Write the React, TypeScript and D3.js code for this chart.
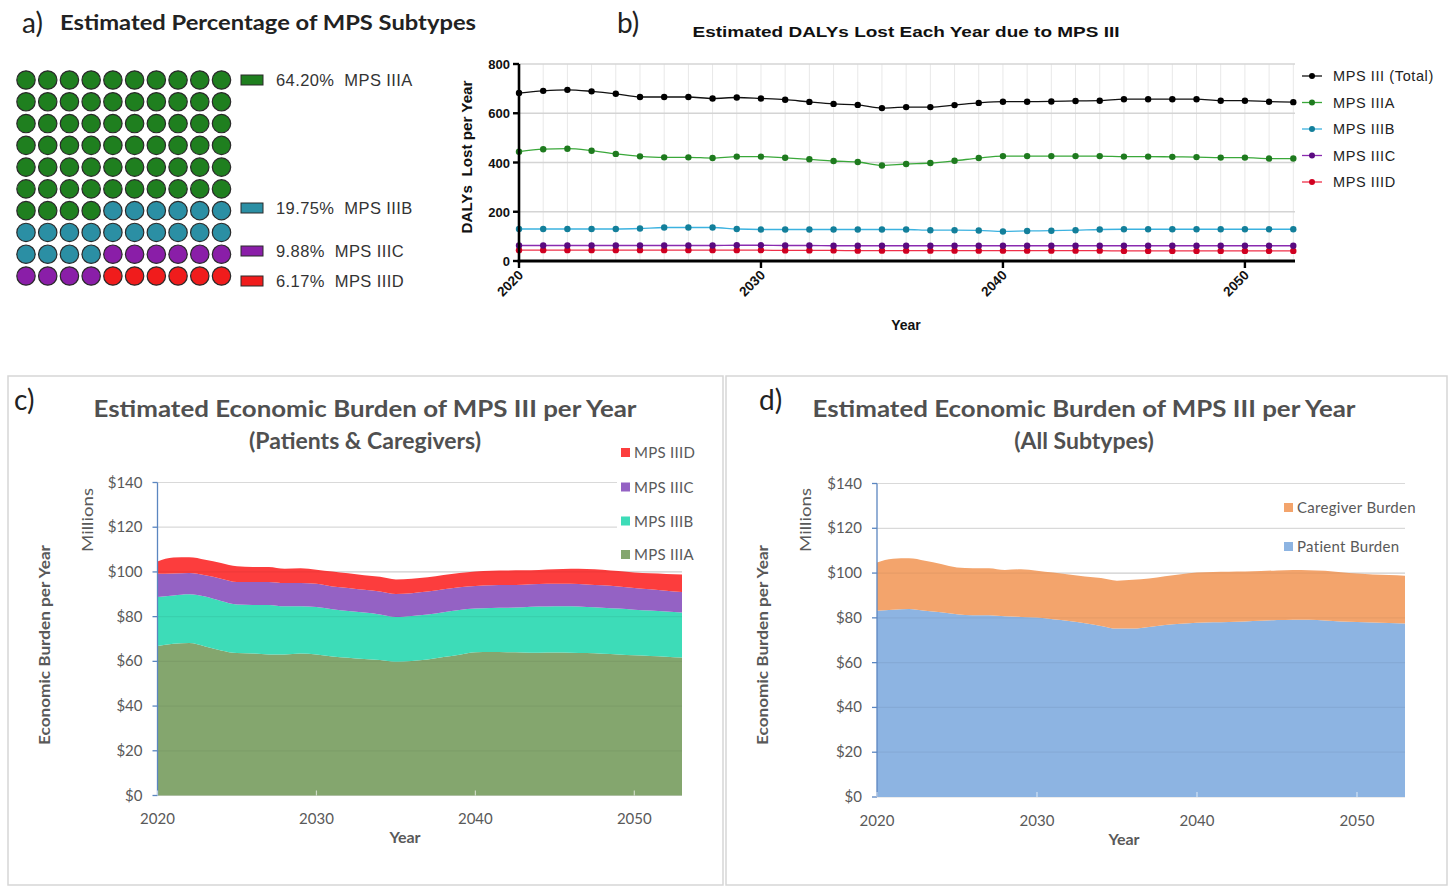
import React from "react";
import * as d3 from "d3";

// ---------- Panel a: waffle ----------
const waffleLabels = ["MPS IIIA", "MPS IIIB", "MPS IIIC", "MPS IIID"];
const wafflePercents = ["64.20%", "19.75%", "9.88%", "6.17%"];
const waffleCounts = [64, 20, 10, 6];
const waffleColors = ["#1f7f1f", "#2b8fa4", "#8a1ea8", "#f01c1c"];
const waffleLegendY = [80, 208, 251, 281];

// ---------- Panel b: DALYs ----------
const dalyYears = [2020, 2021, 2022, 2023, 2024, 2025, 2026, 2027, 2028, 2029, 2030, 2031, 2032, 2033, 2034, 2035, 2036, 2037, 2038, 2039, 2040, 2041, 2042, 2043, 2044, 2045, 2046, 2047, 2048, 2049, 2050, 2051, 2052];
const dalyTotal = [682, 691, 695, 689, 679, 666, 666, 666, 660, 664, 660, 655, 646, 638, 634, 621, 625, 625, 633, 642, 647, 647, 648, 650, 651, 657, 657, 657, 657, 651, 651, 647, 645];
const dalyA = [444, 454, 456, 448, 435, 425, 421, 421, 418, 424, 424, 419, 413, 406, 402, 388, 394, 398, 407, 418, 426, 426, 426, 426, 426, 424, 424, 423, 422, 420, 420, 416, 416];
const dalyB = [130, 130, 130, 130, 130, 132, 136, 136, 136, 130, 128, 128, 128, 128, 128, 128, 128, 125, 125, 124, 120, 122, 123, 125, 128, 129, 129, 129, 129, 129, 129, 129, 129];
const dalyC = [63, 63, 63, 63, 63, 63, 63, 63, 63, 64, 64, 63, 63, 62, 62, 62, 62, 62, 62, 62, 62, 62, 62, 62, 62, 62, 62, 62, 62, 62, 62, 62, 62];
const dalyD = [44, 44, 44, 44, 44, 44, 44, 44, 44, 44, 44, 43, 43, 43, 42, 42, 42, 42, 42, 42, 42, 42, 42, 42, 42, 41, 41, 41, 41, 41, 41, 41, 41];
const dalyNames = ["MPS III (Total)", "MPS IIIA", "MPS IIIB", "MPS IIIC", "MPS IIID"];
const dalyLineColors = ["#111111", "#3aa83a", "#3bb2e0", "#8a2bb0", "#f0304a"];
const dalyMarkerColors = ["#000000", "#1e7a1e", "#137f9a", "#5a0a80", "#d00020"];
const dalyYTicks = [0, 200, 400, 600, 800];
const dalyXTicks = [2020, 2030, 2040, 2050];

// ---------- Panels c & d: economic burden ----------
const econYears = [2020, 2021, 2022, 2023, 2024, 2025, 2026, 2027, 2028, 2029, 2030, 2031, 2032, 2033, 2034, 2035, 2036, 2037, 2038, 2039, 2040, 2041, 2042, 2043, 2044, 2045, 2046, 2047, 2048, 2049, 2050, 2051, 2052, 2053];
const econA = [66.9, 67.9, 68.2, 66.7, 64.9, 63.7, 63.5, 63.1, 63.1, 63.5, 63.1, 62.2, 61.6, 61.0, 60.6, 59.8, 60.2, 60.8, 61.9, 63.0, 64.1, 64.2, 64.1, 64.0, 63.9, 64.0, 63.9, 63.7, 63.4, 63.1, 62.7, 62.4, 62.1, 61.7];
const econB = [21.9, 21.6, 21.8, 22.3, 22.1, 21.7, 21.7, 22.1, 21.5, 21.2, 21.2, 21.1, 20.9, 20.8, 20.4, 20.0, 20.1, 20.2, 20.1, 20.0, 19.5, 19.7, 19.9, 20.2, 20.6, 20.7, 20.7, 20.6, 20.6, 20.5, 20.4, 20.3, 20.2, 20.1];
const econC = [10.4, 9.8, 9.5, 9.5, 10.0, 10.1, 10.3, 10.3, 10.4, 10.4, 10.4, 10.2, 10.3, 10.2, 10.2, 10.3, 10.2, 10.2, 10.2, 10.1, 10.1, 10.1, 10.1, 10.1, 10.1, 10.0, 10.1, 10.1, 10.0, 9.9, 9.7, 9.5, 9.3, 9.2];
const econD = [5.5, 7.1, 7.1, 7.0, 7.0, 7.0, 6.7, 6.7, 6.4, 6.6, 6.3, 6.7, 6.6, 6.5, 6.6, 6.5, 6.5, 6.4, 6.4, 6.4, 6.5, 6.5, 6.5, 6.4, 6.3, 6.5, 6.7, 6.9, 7.0, 6.9, 7.0, 7.2, 7.5, 7.8];
const econSubNames = ["MPS IIIA", "MPS IIIB", "MPS IIIC", "MPS IIID"];
const econSubColors = ["#84a66e", "#3ddcb8", "#9462c4", "#fc3d3d"];
const patientBurden = [83.2, 83.6, 84.0, 83.2, 82.5, 81.6, 81.2, 81.2, 80.7, 80.4, 80.2, 79.4, 78.6, 77.6, 76.4, 75.2, 75.2, 75.9, 76.8, 77.4, 77.8, 78.0, 78.2, 78.4, 78.7, 79.0, 79.2, 79.1, 78.8, 78.4, 78.1, 77.9, 77.7, 77.5];
const caregiverBurden = [21.5, 22.8, 22.6, 22.3, 21.5, 20.9, 21.0, 21.0, 20.7, 21.3, 20.8, 20.8, 20.8, 20.9, 21.4, 21.4, 21.8, 21.7, 21.8, 22.1, 22.4, 22.5, 22.4, 22.3, 22.2, 22.2, 22.2, 22.2, 22.2, 22.0, 21.7, 21.5, 21.4, 21.3];
const burdenNames = ["Patient Burden", "Caregiver Burden"];
const burdenColors = ["#8db4e2", "#f3a46c"];
const econYTicks = [0, 20, 40, 60, 80, 100, 120, 140];
const econXTicks = [2020, 2030, 2040, 2050];

const ARIAL = "'Liberation Sans', Arial, sans-serif";
const CAL = "Lato, 'Open Sans', sans-serif";
const GREY = "#595959";

function Waffle() {
  const cells: { i: number; color: string }[] = [];
  let idx = 0;
  waffleCounts.forEach((n, k) => {
    for (let j = 0; j < n; j++) cells.push({ i: idx++, color: waffleColors[k] });
  });
  const x = d3.scaleLinear().domain([0, 9]).range([26, 221.5]);
  const y = d3.scaleLinear().domain([0, 9]).range([80, 276]);
  return (
    <g>
      <text x={22} y={33} fontFamily={CAL} fontSize={28} fill="#222">a)</text>
      <text x={60} y={30} fontFamily={CAL} fontWeight={700} fontSize={20} fill="#222" textLength={416} lengthAdjust="spacingAndGlyphs">Estimated Percentage of MPS Subtypes</text>
      {cells.map((c) => (
        <circle key={c.i} cx={x(c.i % 10)} cy={y(Math.floor(c.i / 10))} r={9.2} fill={c.color} stroke="#2a2a2a" strokeWidth={1.2} />
      ))}
      {waffleLabels.map((lab, k) => {
        const yy = waffleLegendY[k];
        return (
          <g key={lab}>
            <rect x={241} y={yy - 5} width={22} height={10} fill={waffleColors[k]} stroke="#2a2a2a" strokeWidth={1} />
            <text x={276} y={yy + 6} fontFamily={ARIAL} fontSize={16.5} fill="#333" letterSpacing={0.4} style={{ whiteSpace: "pre" }}>{`${wafflePercents[k]}  ${lab}`}</text>
          </g>
        );
      })}
    </g>
  );
}

function DalyChart() {
  const x = d3.scaleLinear().domain([2020, 2052.07]).range([519, 1295]);
  const y = d3.scaleLinear().domain([0, 800]).range([261, 64]);
  const series = [dalyTotal, dalyA, dalyB, dalyC, dalyD];
  const line = d3
    .line<number>()
    .x((_, i) => x(dalyYears[i]))
    .y((v) => y(v))
    .curve(d3.curveMonotoneX);
  const order = [4, 3, 2, 1, 0];
  return (
    <g>
      <text x={617} y={33} fontFamily={CAL} fontSize={28} fill="#222">b)</text>
      <text x={906} y={37} textAnchor="middle" fontFamily={ARIAL} fontWeight={700} fontSize={15} fill="#111" textLength={427} lengthAdjust="spacingAndGlyphs">Estimated DALYs Lost Each Year due to MPS III</text>
      {dalyYears.map((yr) => (
        <line key={"vg" + yr} x1={x(yr)} x2={x(yr)} y1={y(800)} y2={y(0)} stroke="#e8e8e8" strokeWidth={1} />
      ))}
      {dalyYTicks.filter((t) => t > 0).map((t) => (
        <line key={"hg" + t} x1={x(2020)} x2={1295} y1={y(t)} y2={y(t)} stroke="#d4d4d4" strokeWidth={1.6} />
      ))}
      {order.map((k) => (
        <g key={"s" + k}>
          <path d={line(series[k]) || ""} fill="none" stroke={dalyLineColors[k]} strokeWidth={1.3} />
          {series[k].map((v, i) => (
            <circle key={i} cx={x(dalyYears[i])} cy={y(v)} r={3.2} fill={dalyMarkerColors[k]} />
          ))}
        </g>
      ))}
      <line x1={x(2020)} x2={x(2020)} y1={y(800)} y2={y(0) + 1.5} stroke="#000" strokeWidth={2.6} />
      <line x1={x(2020) - 1.3} x2={1295} y1={y(0)} y2={y(0)} stroke="#000" strokeWidth={3} />
      {dalyYTicks.map((t) => (
        <g key={"yt" + t}>
          <line x1={x(2020) - 6} x2={x(2020)} y1={y(t)} y2={y(t)} stroke="#000" strokeWidth={2.4} />
          <text x={x(2020) - 9} y={y(t) + 5} textAnchor="end" fontFamily={ARIAL} fontWeight={700} fontSize={13} fill="#111">{t}</text>
        </g>
      ))}
      {dalyXTicks.map((t) => (
        <g key={"xt" + t}>
          <line x1={x(t)} x2={x(t)} y1={y(0)} y2={y(0) + 7} stroke="#000" strokeWidth={2.4} />
          <text transform={`translate(${x(t) + 5},${y(0) + 15}) rotate(-45)`} textAnchor="end" fontFamily={ARIAL} fontWeight={700} fontSize={13.5} fill="#111">{t}</text>
        </g>
      ))}
      <text transform={`translate(472,157) rotate(-90)`} textAnchor="middle" fontFamily={ARIAL} fontWeight={700} fontSize={14} fill="#111" textLength={153} lengthAdjust="spacingAndGlyphs" style={{ whiteSpace: "pre" }}>{"DALYs  Lost per Year"}</text>
      <text x={906} y={330} textAnchor="middle" fontFamily={ARIAL} fontWeight={700} fontSize={14} fill="#111">Year</text>
      {dalyNames.map((n, k) => {
        const yy = 76 + k * 26.5;
        return (
          <g key={"lg" + k}>
            <line x1={1302} x2={1322} y1={yy} y2={yy} stroke={dalyLineColors[k]} strokeWidth={1.3} />
            <circle cx={1312} cy={yy} r={3} fill={dalyMarkerColors[k]} />
            <text x={1333} y={yy + 5} fontFamily={ARIAL} fontSize={14.5} letterSpacing={0.6} fill="#222">{n}</text>
          </g>
        );
      })}
    </g>
  );
}

type EconProps = {
  letter: string;
  letterX: number;
  titleX: number;
  title2: string;
  x0: number;
  x1: number;
  y0: number;
  y1: number;
  layers: number[][];
  colors: string[];
  names: string[];
  legendOrder: number[];
  legendX: number;
  legendY: number[];
  legendBox: [number, number, number, number] | null;
  yTitleX: number;
  millionsX: number;
  yearX: number;
  yearY: number;
  tickY: number;
};

function EconChart(p: EconProps) {
  const x = d3.scaleLinear().domain([2020, 2053]).range([p.x0, p.x1]);
  const y = d3.scaleLinear().domain([0, 140]).range([p.y0, p.y1]);
  const keys = p.layers.map((_, k) => "k" + k);
  const rows = econYears.map((yr, i) => {
    const r: any = { year: yr };
    p.layers.forEach((arr, k) => (r["k" + k] = arr[i]));
    return r;
  });
  const stacked = d3.stack<any>().keys(keys)(rows);
  const area = d3
    .area<any>()
    .x((d) => x(d.data.year))
    .y0((d) => y(d[0]))
    .y1((d) => y(d[1]))
    .curve(d3.curveMonotoneX);
  return (
    <g>
      <text x={p.letterX} y={410} fontFamily={CAL} fontSize={28} fill="#222">{p.letter}</text>
      <text x={p.titleX} y={417} textAnchor="middle" fontFamily={CAL} fontWeight={700} fontSize={23} fill="#505050" textLength={543} lengthAdjust="spacingAndGlyphs">Estimated Economic Burden of MPS III per Year</text>
      <text x={p.titleX} y={449} textAnchor="middle" fontFamily={CAL} fontWeight={700} fontSize={23} fill="#505050">{p.title2}</text>
      {econYTicks.map((t) => (
        <line key={"g" + t} x1={p.x0} x2={p.x1} y1={y(t)} y2={y(t)} stroke="#d9d9d9" strokeWidth={1.2} />
      ))}
      {stacked.map((s, k) => (
        <path key={"a" + k} d={area(s as any) || ""} fill={p.colors[k]} />
      ))}
      {econYTicks.filter((t) => t > 0 && t < 120).map((t) => (
        <line key={"gi" + t} x1={p.x0} x2={p.x1} y1={y(t)} y2={y(t)} stroke="rgba(0,0,0,0.05)" strokeWidth={1.2} />
      ))}
      {p.legendBox && <rect x={p.legendBox[0]} y={p.legendBox[1]} width={p.legendBox[2]} height={p.legendBox[3]} fill="#fff" />}
      <line x1={p.x0} x2={p.x0} y1={y(140)} y2={y(0)} stroke="#5b86c0" strokeWidth={1.3} />
      {econYTicks.map((t) => (
        <g key={"yt" + t}>
          <line x1={p.x0 - 5} x2={p.x0} y1={y(t)} y2={y(t)} stroke="#5b86c0" strokeWidth={1.3} />
          <text x={p.x0 - 15} y={y(t) + 5} textAnchor="end" fontFamily={CAL} fontSize={15} fill={GREY}>{`$${t}`}</text>
        </g>
      ))}
      {econXTicks.map((t) => (
        <g key={"xt" + t}>
          <line x1={x(t)} x2={x(t)} y1={y(0) - 5} y2={y(0)} stroke="rgba(255,255,255,0.6)" strokeWidth={1.2} />
          <text x={x(t)} y={p.tickY} textAnchor="middle" fontFamily={CAL} fontSize={15} fill={GREY}>{t}</text>
        </g>
      ))}
      <text x={p.yearX} y={p.yearY} textAnchor="middle" fontFamily={CAL} fontWeight={700} fontSize={16} fill={GREY}>Year</text>
      <text transform={`translate(${p.yTitleX},${645}) rotate(-90)`} textAnchor="middle" fontFamily={CAL} fontWeight={700} fontSize={16} fill={GREY} textLength={200} lengthAdjust="spacingAndGlyphs">Economic Burden per Year</text>
      <text transform={`translate(${p.millionsX},${520}) rotate(-90)`} textAnchor="middle" fontFamily={CAL} fontSize={16} fill={GREY} textLength={64} lengthAdjust="spacingAndGlyphs">Millions</text>
      {p.legendOrder.map((k, j) => (
        <g key={"lg" + k}>
          <rect x={p.legendX} y={p.legendY[j] - 5} width={9} height={9} fill={p.colors[k]} />
          <text x={p.legendX + 13} y={p.legendY[j] + 5} fontFamily={CAL} fontSize={15} letterSpacing={0.3} fill={GREY}>{p.names[k]}</text>
        </g>
      ))}
    </g>
  );
}

export default function App() {
  return (
    <svg width={1453} height={888} style={{ position: "absolute", left: 0, top: 0, background: "#fff" }}>
      <rect x={0} y={0} width={1453} height={888} fill="#fff" />
      <Waffle />
      <DalyChart />
      <rect x={8} y={376} width={715} height={509} fill="none" stroke="#d6d6d6" strokeWidth={1.5} />
      <rect x={726} y={376} width={721} height={509} fill="none" stroke="#d6d6d6" strokeWidth={1.5} />
      <EconChart
        letter="c)"
        letterX={14}
        titleX={365}
        title2="(Patients & Caregivers)"
        x0={157.5}
        x1={682}
        y0={795.5}
        y1={482.5}
        layers={[econA, econB, econC, econD]}
        colors={econSubColors}
        names={econSubNames}
        legendOrder={[3, 2, 1, 0]}
        legendX={621}
        legendY={[453, 487.5, 521.5, 555]}
        legendBox={[617, 440, 90, 128]}
        yTitleX={50}
        millionsX={93}
        yearX={405}
        yearY={843}
        tickY={824}
      />
      <EconChart
        letter="d)"
        letterX={759}
        titleX={1084}
        title2="(All Subtypes)"
        x0={877}
        x1={1405}
        y0={797}
        y1={483.5}
        layers={[patientBurden, caregiverBurden]}
        colors={burdenColors}
        names={burdenNames}
        legendOrder={[1, 0]}
        legendX={1284}
        legendY={[508, 547]}
        legendBox={null}
        yTitleX={768}
        millionsX={811}
        yearX={1124}
        yearY={845}
        tickY={826}
      />
    </svg>
  );
}
